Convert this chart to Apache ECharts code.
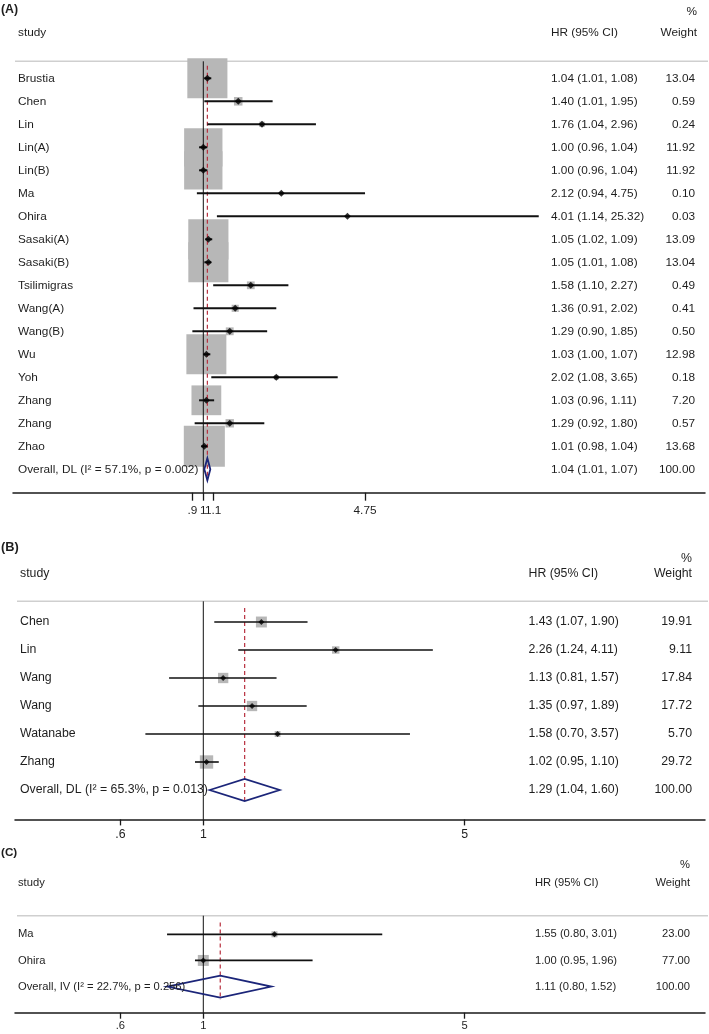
<!DOCTYPE html>
<html><head><meta charset="utf-8">
<script src="https://cdn.jsdelivr.net/npm/echarts@6/dist/echarts.min.js"></script>
<style>html,body{margin:0;padding:0;background:#fff}#c{width:709px;height:1034px}</style>
</head><body><div id="c"></div>
<script>
// ---------- Panel A data ----------
const studiesA = ['Brustia','Chen','Lin','Lin(A)','Lin(B)','Ma','Ohira','Sasaki(A)','Sasaki(B)','Tsilimigras','Wang(A)','Wang(B)','Wu','Yoh','Zhang','Zhang','Zhao'];
const hrA     = [1.04,1.40,1.76,1.00,1.00,2.12,4.01,1.05,1.05,1.58,1.36,1.29,1.03,2.02,1.03,1.29,1.01];
const loA     = [1.01,1.01,1.04,0.96,0.96,0.94,1.14,1.02,1.01,1.10,0.91,0.90,1.00,1.08,0.96,0.92,0.98];
const hiA     = [1.08,1.95,2.96,1.04,1.04,4.75,25.32,1.09,1.08,2.27,2.02,1.85,1.07,3.65,1.11,1.80,1.04];
const weightA = [13.04,0.59,0.24,11.92,11.92,0.10,0.03,13.09,13.04,0.49,0.41,0.50,12.98,0.18,7.20,0.57,13.68];
const overallA = [1.04,1.01,1.07,100.00];
const overallLabelA = 'Overall, DL (I\u00B2 = 57.1%, p = 0.002)';
const ticksA = [0.9,1,1.1,4.75];
const tickLabelsA = ['.9','1','1.1','4.75'];

// ---------- Panel B data ----------
const studiesB = ['Chen','Lin','Wang','Wang','Watanabe','Zhang'];
const hrB     = [1.43,2.26,1.13,1.35,1.58,1.02];
const loB     = [1.07,1.24,0.81,0.97,0.70,0.95];
const hiB     = [1.90,4.11,1.57,1.89,3.57,1.10];
const weightB = [19.91,9.11,17.84,17.72,5.70,29.72];
const overallB = [1.29,1.04,1.60,100.00];
const overallLabelB = 'Overall, DL (I\u00B2 = 65.3%, p = 0.013)';
const ticksB = [0.6,1,5];
const tickLabelsB = ['.6','1','5'];

// ---------- Panel C data ----------
const studiesC = ['Ma','Ohira'];
const hrC     = [1.55,1.00];
const loC     = [0.80,0.95];
const hiC     = [3.01,1.96];
const weightC = [23.00,77.00];
const overallC = [1.11,0.80,1.52,100.00];
const overallLabelC = 'Overall, IV (I\u00B2 = 22.7%, p = 0.256)';
const ticksC = [0.6,1,5];
const tickLabelsC = ['.6','1','5'];

// ---------- layout (pixels) ----------
const FONT = '"Liberation Sans", Arial, sans-serif';
const TXT = '#1e1e1e';
const panels = [
  {letter:'(A)', studies:studiesA, hr:hrA, lo:loA, hi:hiA, w:weightA, ov:overallA, ovLabel:overallLabelA, ticks:ticksA, tickLabels:tickLabelsA,
   left:13, oneX:203.3, pxLn:103.8, row0:78.3, rowH:23.0, axisY:492.7, boxK:11.1, font:11.8, ciW:2, mk:7,
   letterY:10, pctY:12, headY:33, lineY:61.3, nameX:18, hrX:551, wX:695, headRX:697, tickLen:8, labMargin:12, dash:[-0.55]},
  {letter:'(B)', studies:studiesB, hr:hrB, lo:loB, hi:hiB, w:weightB, ov:overallB, ovLabel:overallLabelB, ticks:ticksB, tickLabels:tickLabelsB,
   left:15, oneX:203.3, pxLn:162.4, row0:622, rowH:28, axisY:819.4, boxK:2.45, font:12.3, ciW:1.6, mk:6,
   letterY:547, pctY:559, headY:574, lineY:601.3, nameX:20, hrX:528.5, wX:692, headRX:692, tickLen:6, labMargin:9, dash:[-0.5]},
  {letter:'(C)', studies:studiesC, hr:hrC, lo:loC, hi:hiC, w:weightC, ov:overallC, ovLabel:overallLabelC, ticks:ticksC, tickLabels:tickLabelsC,
   left:15, oneX:203.3, pxLn:162.4, row0:934.3, rowH:26.13, axisY:1012.7, boxK:1.25, font:11.2, ciW:1.8, mk:6,
   letterY:853, pctY:865, headY:883, lineY:915.7, nameX:18, hrX:535, wX:690, headRX:690, tickLen:6, labMargin:8, dash:[-0.45]}
];
const RIGHT_EDGE = 705;

const grids = [], xAxes = [], yAxes = [], series = [], graphics = [];
const f2 = v => v.toFixed(2);

panels.forEach((P, k) => {
  const top = P.row0 - 3 * P.rowH;
  const ymax = (P.axisY - P.row0) / P.rowH;
  const n = P.studies.length;
  const lineRow = (P.lineY - P.row0) / P.rowH;
  grids.push({left: P.left, width: RIGHT_EDGE - P.left, top: top, height: P.axisY - top});
  const tv = P.ticks.map(Math.log);
  xAxes.push({
    type:'value', gridIndex:k,
    min:(P.left - P.oneX) / P.pxLn, max:(RIGHT_EDGE - P.oneX) / P.pxLn,
    splitLine:{show:false},
    axisLine:{show:true, onZero:false, lineStyle:{color:'#1a1a1a', width:1.5}},
    axisTick:{show:true, customValues:tv, length:P.tickLen, lineStyle:{color:'#1a1a1a', width:1.3}},
    axisLabel:{show:true, customValues:tv, margin:P.labMargin, color:TXT, fontFamily:FONT, fontSize:P.font,
      formatter:function(v){ const i = tv.findIndex(t => Math.abs(t - v) < 1e-6); return i >= 0 ? P.tickLabels[i] : ''; }}
  });
  yAxes.push({type:'value', gridIndex:k, inverse:true, min:-3, max:ymax, show:false});

  const ax = {xAxisIndex:k, yAxisIndex:k};
  // weight boxes
  series.push(Object.assign({
    type:'custom', z:1, silent:true,
    data:P.hr.map((h, i) => [Math.log(h), i, P.w[i]]),
    renderItem:function(params, api){
      const p = api.coord([api.value(0), api.value(1)]);
      const s = P.boxK * Math.sqrt(api.value(2));
      return {type:'rect', shape:{x:p[0]-s/2, y:p[1]-s/2, width:s, height:s}, style:{fill:'#b7b7b7'}};
    }
  }, ax));
  // reference line at HR = 1
  series.push(Object.assign({
    type:'custom', z:2, silent:true, data:[[Math.log(1)]],
    renderItem:function(params, api){
      const a = api.coord([api.value(0), lineRow]);
      const b = api.coord([api.value(0), ymax]);
      return {type:'line', shape:{x1:a[0], y1:a[1], x2:b[0], y2:b[1]}, style:{stroke:'#111', lineWidth:1}};
    }
  }, ax));
  // dashed overall line
  series.push(Object.assign({
    type:'custom', z:3, silent:true, data:[[Math.log(P.ov[0]), n]],
    renderItem:function(params, api){
      const a = api.coord([api.value(0), P.dash[0]]);
      const b = api.coord([api.value(0), api.value(1) + 0.5]);
      return {type:'line', shape:{x1:a[0], y1:a[1], x2:b[0], y2:b[1]}, style:{stroke:'#b8303f', lineWidth:1.2, lineDash:[4,3]}};
    }
  }, ax));
  // confidence intervals
  series.push(Object.assign({
    type:'custom', z:4, silent:true,
    data:P.lo.map((l, i) => [Math.log(l), Math.log(P.hi[i]), i]),
    renderItem:function(params, api){
      const a = api.coord([api.value(0), api.value(2)]);
      const b = api.coord([api.value(1), api.value(2)]);
      return {type:'line', shape:{x1:a[0], y1:a[1], x2:b[0], y2:b[1]}, style:{stroke:'#111', lineWidth:P.ciW}};
    }
  }, ax));
  // point estimates
  series.push(Object.assign({
    type:'scatter', z:5, silent:true, symbol:'diamond', symbolSize:P.mk,
    itemStyle:{color:'#000'},
    data:P.hr.map((h, i) => [Math.log(h), i])
  }, ax));
  // overall diamond
  series.push(Object.assign({
    type:'custom', z:5, silent:true,
    data:[[Math.log(P.ov[1]), Math.log(P.ov[0]), Math.log(P.ov[2]), n]],
    renderItem:function(params, api){
      const r = api.value(3);
      const L = api.coord([api.value(0), r]);
      const C = api.coord([api.value(1), r]);
      const R = api.coord([api.value(2), r]);
      const h = 11;
      return {type:'polygon', shape:{points:[[L[0],L[1]],[C[0],C[1]-h],[R[0],R[1]],[C[0],C[1]+h]]},
        style:{fill:'none', stroke:'#1b2579', lineWidth:1.8}};
    }
  }, ax));
  // row texts
  const rowNames = P.studies.concat([P.ovLabel]);
  const rowHr = P.hr.map((h, i) => f2(h) + ' (' + f2(P.lo[i]) + ', ' + f2(P.hi[i]) + ')')
    .concat([f2(P.ov[0]) + ' (' + f2(P.ov[1]) + ', ' + f2(P.ov[2]) + ')']);
  const rowW = P.w.map(f2).concat([f2(P.ov[3])]);
  series.push(Object.assign({
    type:'custom', z:6, silent:true,
    data:rowNames.map((s, i) => [0, i]),
    renderItem:function(params, api){
      const i = params.dataIndex;
      const y = api.coord([0, api.value(1)])[1];
      const st = (x, t, al) => ({type:'text', style:{x:x, y:y, text:t, fill:TXT, font:P.font + 'px ' + FONT, textAlign:al, textVerticalAlign:'middle'}});
      return {type:'group', children:[
        st(P.nameX, rowNames[i], 'left'),
        st(P.hrX, rowHr[i], 'left'),
        st(P.wX, rowW[i], 'right')
      ]};
    }
  }, ax));

  // header graphics
  const tx = (x, y, t, al, fw, fs) => ({type:'text', silent:true, z:10, style:{x:x, y:y, text:t, fill:TXT, font:(fw||'normal') + ' ' + (fs||P.font) + 'px ' + FONT, textAlign:al, textVerticalAlign:'middle'}});
  graphics.push(tx(1, P.letterY, P.letter, 'left', 'bold', P.font + 0.5));
  graphics.push(tx(P.headRX, P.pctY, '%', 'right'));
  graphics.push(tx(P.nameX, P.headY, 'study', 'left'));
  graphics.push(tx(P.hrX, P.headY, 'HR (95% CI)', 'left'));
  graphics.push(tx(P.headRX, P.headY, 'Weight', 'right'));
  graphics.push({type:'line', silent:true, z:1, shape:{x1:P.left + 2, y1:P.lineY, x2:708, y2:P.lineY}, style:{stroke:'#cfcfcf', lineWidth:1.5}});
});

const chart = echarts.init(document.getElementById('c'), null, {renderer:'canvas'});
chart.setOption({
  animation:false,
  backgroundColor:'#fff',
  grid:grids, xAxis:xAxes, yAxis:yAxes, series:series, graphic:graphics
});
</script>
</body></html>
